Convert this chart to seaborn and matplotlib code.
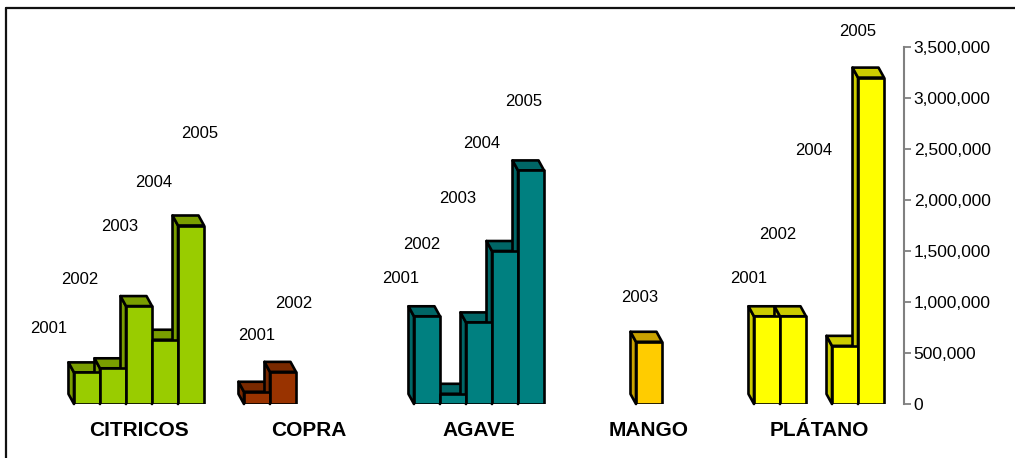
import matplotlib
matplotlib.use("Agg")
import numpy as np
import pandas as pd
import matplotlib.pyplot as plt
from matplotlib.patches import Polygon
from matplotlib.lines import Line2D
from matplotlib.ticker import FuncFormatter, MultipleLocator
import seaborn as sns

# ---- data -------------------------------------------------------------
categories = ["CITRICOS", "COPRA", "AGAVE", "MANGO", "PLÁTANO"]
years = ["2001", "2002", "2003", "2004", "2005"]

# production per year (None = no bar for that year)
citricos = [310000, 350000, 960000, 630000, 1750000]
copra = [120000, 315000, None, None, None]
agave = [860000, 100000, 800000, 1500000, 2290000]
mango = [None, None, 610000, None, None]
platano = [860000, 860000, None, 570000, 3200000]

# ---- styling ----------------------------------------------------------
front_colors = ["#99CC00", "#993300", "#008080", "#FFCC00", "#FFFF00"]
shade_colors = ["#7A9E00", "#7A2900", "#006666", "#C9A200", "#CCCC00"]

# year-label placement: pixel offset from the top centre of each bar
label_offsets = {
    "CITRICOS": [(-38, 44), (-33, 89), (-19, 80), (-11, 157), (9, 92)],
    "COPRA": [(0, 56), (11, 68), None, None, None],
    "AGAVE": [(-26, 38), (-31, 149), (-21, 124), (-23, 108), (-7, 69)],
    "MANGO": [None, None, (-9, 44), None, None],
    "PLÁTANO": [(-18, 38), (-15, 82), None, (-31, 195), (-13, 46)],
}

DEPTH_PX = (-5.5, 10)   # receding offset of the 3-D bar faces
EDGE_LW = 1.9

series = dict(zip(categories, [citricos, copra, agave, mango, platano]))
rows = []
for cat, vals in series.items():
    for yr, v in zip(years, vals):
        if v is not None:
            rows.append({"producto": cat, "anio": yr, "valor": v})
df = pd.DataFrame(rows)

sns.set_style("white")
plt.rcParams["font.family"] = ["Liberation Sans", "DejaVu Sans"]
plt.rcParams["text.color"] = "black"
plt.rcParams["xtick.color"] = "black"
plt.rcParams["ytick.color"] = "black"

W, H, DPI = 1015, 458, 100
fig = plt.figure(figsize=(W / DPI, H / DPI), dpi=DPI)
ax = fig.add_axes([54 / W, (H - 404) / H, 850 / W, 357 / H])

GROUP_W = 0.765
sns.barplot(data=df, x="producto", y="valor", hue="anio",
            order=categories, hue_order=years, width=GROUP_W, gap=0,
            dodge=True, errorbar=None, legend=False, saturation=1,
            edgecolor="black", linewidth=EDGE_LW, ax=ax)

ax.set_xlim(-0.5, 4.5)
ax.set_ylim(0, 3500000)

# convert the pixel depth into data units
inv = ax.transData.inverted()
o = ax.transData.transform((0, 0))
d = inv.transform(o + np.array(DEPTH_PX))
ddx, ddy = d[0], d[1]

bw = GROUP_W / len(years)
for bar in ax.patches:
    x0, w, h = bar.get_x(), bar.get_width(), bar.get_height()
    if not np.isfinite(h) or w <= 0:
        continue
    xc = x0 + w / 2
    ci = int(round(xc))
    slot = int(round((xc - ci) / bw + (len(years) - 1) / 2))
    cat = categories[ci]
    bar.set_facecolor(front_colors[ci])
    bar.set_zorder(3)
    bar.set_joinstyle("round")
    top = Polygon([(x0, h), (x0 + w, h), (x0 + w + ddx, h + ddy), (x0 + ddx, h + ddy)],
                  closed=True, facecolor=shade_colors[ci], edgecolor="black",
                  linewidth=EDGE_LW, zorder=2, clip_on=False, joinstyle="round")
    side = Polygon([(x0, 0), (x0, h), (x0 + ddx, h + ddy), (x0 + ddx, ddy)],
                   closed=True, facecolor=shade_colors[ci], edgecolor="black",
                   linewidth=EDGE_LW, zorder=2, clip_on=False, joinstyle="round")
    ax.add_patch(side)
    ax.add_patch(top)
    off = label_offsets[cat][slot]
    if off is not None:
        ax.annotate(years[slot], xy=(xc, h), xytext=off, textcoords="offset pixels",
                    ha="center", va="center", fontsize=12, color="black",
                    annotation_clip=False, zorder=5)

# axes styling
for s in ("left", "top", "bottom"):
    ax.spines[s].set_visible(False)
ax.spines["right"].set_color("#808080")
ax.spines["right"].set_linewidth(1.5)
ax.yaxis.tick_right()
ax.yaxis.set_major_locator(MultipleLocator(500000))
ax.yaxis.set_major_formatter(FuncFormatter(lambda v, p: f"{int(v):,}"))
ax.tick_params(axis="y", direction="out", length=5, width=1.3, color="#808080",
               labelsize=12.5, pad=2, labelcolor="black")
ax.tick_params(axis="x", length=0, pad=12, labelcolor="black")
for lab in ax.get_xticklabels():
    lab.set_fontweight("bold")
    lab.set_fontsize(15)
ax.set_xlabel("")
ax.set_ylabel("")
ax.grid(False)

# outer chart frame
fig.add_artist(Line2D([6 / W, 1.0], [1 - 8 / H, 1 - 8 / H], transform=fig.transFigure,
                      color="#111111", linewidth=1.6))
fig.add_artist(Line2D([6 / W, 6 / W], [0.0, 1 - 8 / H], transform=fig.transFigure,
                      color="#111111", linewidth=1.6))

fig.savefig("out.png", dpi=DPI)
